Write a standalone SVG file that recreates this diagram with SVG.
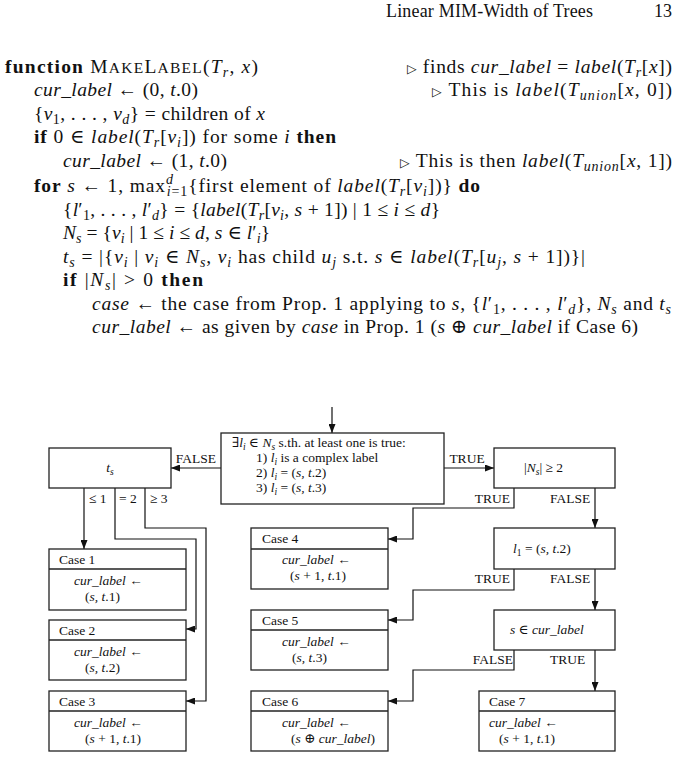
<svg xmlns="http://www.w3.org/2000/svg" width="684" height="758" viewBox="0 0 684 758">
<style>
.tx{font-family:"Liberation Serif","DejaVu Serif",serif;fill:#111}
.hd{font-size:18px}
.bd{font-size:19.5px}
.dg{font-size:13.5px}
.it{font-style:italic}
.bf{font-weight:bold}
.scl{font-size:15.5px}
.sub{font-size:14px;baseline-shift:-4px}
.sup{font-size:14px;baseline-shift:8px}
.dsub{font-size:9.5px;baseline-shift:-3px}
.tri{font-family:"DejaVu Sans",sans-serif;font-size:12.5px}
.box{fill:#fff;stroke:#222;stroke-width:1.3}
.div{stroke:#222;stroke-width:1.3}
.con{fill:none;stroke:#111;stroke-width:1.2}
.arr{marker-end:url(#ah)}
</style>
<defs>
<marker id="ah" viewBox="0 0 9 7" refX="9" refY="3.5" markerWidth="9" markerHeight="7" markerUnits="userSpaceOnUse" orient="auto"><path d="M0,0 L9,3.5 L0,7 z" fill="#111"/></marker>
</defs>

<g id="header">
<text class="tx hd" x="386" y="17" textLength="207" lengthAdjust="spacing">Linear MIM-Width of Trees</text>
<text class="tx hd" x="672" y="17" text-anchor="end">13</text>
</g>

<g id="algorithm">
<text class="tx bd" x="5" y="72.5" textLength="253" lengthAdjust="spacing"><tspan class="bf">function</tspan> M<tspan class="scl">AKE</tspan>L<tspan class="scl">ABEL</tspan>(<tspan class="it">T</tspan><tspan class="sub it">r</tspan>, <tspan class="it">x</tspan>)</text>
<text class="tx bd" x="407" y="72.5" textLength="265" lengthAdjust="spacing"><tspan class="tri">▷</tspan> finds <tspan class="it">cur_label</tspan> = <tspan class="it">label</tspan>(<tspan class="it">T</tspan><tspan class="sub it">r</tspan>[<tspan class="it">x</tspan>])</text>

<text class="tx bd" x="34" y="96" textLength="164" lengthAdjust="spacing"><tspan class="it">cur_label</tspan> ← (0, <tspan class="it">t</tspan>.0)</text>
<text class="tx bd" x="432" y="96" textLength="240" lengthAdjust="spacing"><tspan class="tri">▷</tspan> This is <tspan class="it">label</tspan>(<tspan class="it">T</tspan><tspan class="sub it">union</tspan>[<tspan class="it">x</tspan>, 0])</text>

<text class="tx bd" x="34" y="119.5" textLength="231" lengthAdjust="spacing">{<tspan class="it">v</tspan><tspan class="sub">1</tspan>, . . . , <tspan class="it">v</tspan><tspan class="sub it">d</tspan>} = children of <tspan class="it">x</tspan></text>

<text class="tx bd" x="34" y="143" textLength="302" lengthAdjust="spacing"><tspan class="bf">if</tspan> 0 ∈ <tspan class="it">label</tspan>(<tspan class="it">T</tspan><tspan class="sub it">r</tspan>[<tspan class="it">v</tspan><tspan class="sub it">i</tspan>]) for some <tspan class="it">i</tspan> <tspan class="bf">then</tspan></text>

<text class="tx bd" x="63" y="166.5" textLength="164" lengthAdjust="spacing"><tspan class="it">cur_label</tspan> ← (1, <tspan class="it">t</tspan>.0)</text>
<text class="tx bd" x="400" y="166.5" textLength="272" lengthAdjust="spacing"><tspan class="tri">▷</tspan> This is then <tspan class="it">label</tspan>(<tspan class="it">T</tspan><tspan class="sub it">union</tspan>[<tspan class="it">x</tspan>, 1])</text>

<text class="tx bd" x="34" y="191.5" textLength="446" lengthAdjust="spacing"><tspan class="bf">for</tspan> <tspan class="it">s</tspan> ← 1, max<tspan class="sup it">d</tspan><tspan class="sub" dx="-7"><tspan class="it">i</tspan>=1</tspan>{first element of <tspan class="it">label</tspan>(<tspan class="it">T</tspan><tspan class="sub it">r</tspan>[<tspan class="it">v</tspan><tspan class="sub it">i</tspan>])} <tspan class="bf">do</tspan></text>

<text class="tx bd" x="63" y="215.5" textLength="377" lengthAdjust="spacing">{<tspan class="it">l</tspan>′<tspan class="sub">1</tspan>, . . . , <tspan class="it">l</tspan>′<tspan class="sub it">d</tspan>} = {<tspan class="it">label</tspan>(<tspan class="it">T</tspan><tspan class="sub it">r</tspan>[<tspan class="it">v</tspan><tspan class="sub it">i</tspan>, <tspan class="it">s</tspan> + 1]) | 1 ≤ <tspan class="it">i</tspan> ≤ <tspan class="it">d</tspan>}</text>

<text class="tx bd" x="63" y="239" textLength="207" lengthAdjust="spacing"><tspan class="it">N</tspan><tspan class="sub it">s</tspan> = {<tspan class="it">v</tspan><tspan class="sub it">i</tspan> | 1 ≤ <tspan class="it">i</tspan> ≤ <tspan class="it">d</tspan>,  <tspan class="it">s</tspan> ∈ <tspan class="it">l</tspan>′<tspan class="sub it">i</tspan>}</text>

<text class="tx bd" x="63" y="262.5" textLength="522" lengthAdjust="spacing"><tspan class="it">t</tspan><tspan class="sub it">s</tspan> = |{<tspan class="it">v</tspan><tspan class="sub it">i</tspan> | <tspan class="it">v</tspan><tspan class="sub it">i</tspan> ∈ <tspan class="it">N</tspan><tspan class="sub it">s</tspan>,  <tspan class="it">v</tspan><tspan class="sub it">i</tspan> has child <tspan class="it">u</tspan><tspan class="sub it">j</tspan> s.t. <tspan class="it">s</tspan> ∈ <tspan class="it">label</tspan>(<tspan class="it">T</tspan><tspan class="sub it">r</tspan>[<tspan class="it">u</tspan><tspan class="sub it">j</tspan>, <tspan class="it">s</tspan> + 1])}|</text>

<text class="tx bd" x="63" y="286" textLength="140" lengthAdjust="spacing"><tspan class="bf">if</tspan> |<tspan class="it">N</tspan><tspan class="sub it">s</tspan>| &gt; 0 <tspan class="bf">then</tspan></text>

<text class="tx bd" x="92" y="309.5" textLength="579" lengthAdjust="spacing"><tspan class="it">case</tspan> ← the case from Prop. 1 applying to <tspan class="it">s</tspan>, {<tspan class="it">l</tspan>′<tspan class="sub">1</tspan>, . . . , <tspan class="it">l</tspan>′<tspan class="sub it">d</tspan>}, <tspan class="it">N</tspan><tspan class="sub it">s</tspan> and <tspan class="it">t</tspan><tspan class="sub it">s</tspan></text>

<text class="tx bd" x="92" y="333" textLength="546" lengthAdjust="spacing"><tspan class="it">cur_label</tspan> ← as given by <tspan class="it">case</tspan> in Prop. 1 (<tspan class="it">s</tspan> ⊕ <tspan class="it">cur_label</tspan> if Case 6)</text>
</g>

<g id="connectors">
<path class="con arr" d="M332,407 V433"/>
<path class="con arr" d="M221,468 H171"/>
<path class="con arr" d="M444,468 H494"/>
<path class="con arr" d="M84,488 V549"/>
<path class="con arr" d="M115,488 V539 H196 V629 H186"/>
<path class="con arr" d="M145,488 V528 H206 V701 H186"/>
<path class="con arr" d="M514,488 V508 H413 V539 H388"/>
<path class="con arr" d="M595,488 V528"/>
<path class="con arr" d="M514,569 V590 H413 V620 H388"/>
<path class="con arr" d="M595,569 V610"/>
<path class="con arr" d="M514,650 V670 H413 V701 H388"/>
<path class="con arr" d="M595,650 V691"/>
<text class="tx dg" x="196" y="463" text-anchor="middle">FALSE</text>
<text class="tx dg" x="467" y="463" text-anchor="middle">TRUE</text>
<text class="tx dg" x="89" y="503">≤ 1</text>
<text class="tx dg" x="119" y="503">= 2</text>
<text class="tx dg" x="150" y="503">≥ 3</text>
<text class="tx dg" x="510" y="503" text-anchor="end">TRUE</text>
<text class="tx dg" x="550" y="503">FALSE</text>
<text class="tx dg" x="510" y="583" text-anchor="end">TRUE</text>
<text class="tx dg" x="550" y="583">FALSE</text>
<text class="tx dg" x="513" y="664" text-anchor="end">FALSE</text>
<text class="tx dg" x="550" y="664">TRUE</text>
</g>

<g id="condition">
<rect class="box" x="221" y="433" width="223" height="71"/>
<text class="tx dg" x="232" y="447">∃<tspan class="it">l</tspan><tspan class="dsub it">i</tspan> ∈ <tspan class="it">N</tspan><tspan class="dsub it">s</tspan> s.th.  at least one is true:</text>
<text class="tx dg" x="256" y="462">1) <tspan class="it">l</tspan><tspan class="dsub it">i</tspan> is a complex label</text>
<text class="tx dg" x="256" y="477">2) <tspan class="it">l</tspan><tspan class="dsub it">i</tspan> = (<tspan class="it">s, t</tspan>.2)</text>
<text class="tx dg" x="256" y="492">3) <tspan class="it">l</tspan><tspan class="dsub it">i</tspan> = (<tspan class="it">s, t</tspan>.3)</text>
</g>

<g id="ts">
<rect class="box" x="49" y="448" width="122" height="40"/>
<text class="tx dg" x="110" y="472" text-anchor="middle"><tspan class="it">t</tspan><tspan class="dsub it">s</tspan></text>
</g>

<g id="ns">
<rect class="box" x="494" y="448" width="121" height="40"/>
<text class="tx dg" x="524" y="472">|<tspan class="it">N</tspan><tspan class="dsub it">s</tspan>| ≥ 2</text>
</g>

<g id="l1">
<rect class="box" x="494" y="528" width="121" height="41"/>
<text class="tx dg" x="513" y="553"><tspan class="it">l</tspan><tspan class="dsub">1</tspan> = (<tspan class="it">s, t</tspan>.2)</text>
</g>

<g id="sin">
<rect class="box" x="494" y="610" width="121" height="40"/>
<text class="tx dg" x="510" y="634"><tspan class="it">s</tspan> ∈ <tspan class="it">cur_label</tspan></text>
</g>

<g id="case1">
<rect class="box" x="49" y="549" width="137" height="61"/>
<line class="div" x1="49" y1="569" x2="186" y2="569"/>
<text class="tx dg" x="59" y="563.5">Case 1</text>
<text class="tx dg" x="74" y="585"><tspan class="it">cur_label</tspan> ←</text>
<text class="tx dg" x="85" y="601">(<tspan class="it">s, t</tspan>.1)</text>
</g>

<g id="case2">
<rect class="box" x="49" y="620" width="137" height="60"/>
<line class="div" x1="49" y1="640" x2="186" y2="640"/>
<text class="tx dg" x="59" y="634.5">Case 2</text>
<text class="tx dg" x="74" y="656"><tspan class="it">cur_label</tspan> ←</text>
<text class="tx dg" x="85" y="672">(<tspan class="it">s, t</tspan>.2)</text>
</g>

<g id="case3">
<rect class="box" x="49" y="691" width="137" height="60"/>
<line class="div" x1="49" y1="711" x2="186" y2="711"/>
<text class="tx dg" x="59" y="705.5">Case 3</text>
<text class="tx dg" x="74" y="727"><tspan class="it">cur_label</tspan> ←</text>
<text class="tx dg" x="85" y="743">(<tspan class="it">s</tspan> + 1, <tspan class="it">t</tspan>.1)</text>
</g>

<g id="case4">
<rect class="box" x="251" y="528" width="137" height="61"/>
<line class="div" x1="251" y1="549" x2="388" y2="549"/>
<text class="tx dg" x="262" y="543">Case 4</text>
<text class="tx dg" x="282" y="564"><tspan class="it">cur_label</tspan> ←</text>
<text class="tx dg" x="290" y="580">(<tspan class="it">s</tspan> + 1, <tspan class="it">t</tspan>.1)</text>
</g>

<g id="case5">
<rect class="box" x="251" y="610" width="137" height="60"/>
<line class="div" x1="251" y1="630" x2="388" y2="630"/>
<text class="tx dg" x="262" y="624.5">Case 5</text>
<text class="tx dg" x="282" y="646"><tspan class="it">cur_label</tspan> ←</text>
<text class="tx dg" x="292" y="662">(<tspan class="it">s, t</tspan>.3)</text>
</g>

<g id="case6">
<rect class="box" x="251" y="691" width="137" height="60"/>
<line class="div" x1="251" y1="711" x2="388" y2="711"/>
<text class="tx dg" x="262" y="705.5">Case 6</text>
<text class="tx dg" x="282" y="727"><tspan class="it">cur_label</tspan> ←</text>
<text class="tx dg" x="291" y="743">(<tspan class="it">s</tspan> ⊕ <tspan class="it">cur_label</tspan>)</text>
</g>

<g id="case7">
<rect class="box" x="479" y="691" width="136" height="60"/>
<line class="div" x1="479" y1="711" x2="615" y2="711"/>
<text class="tx dg" x="489" y="705.5">Case 7</text>
<text class="tx dg" x="489" y="727"><tspan class="it">cur_label</tspan> ←</text>
<text class="tx dg" x="499" y="743">(<tspan class="it">s</tspan> + 1, <tspan class="it">t</tspan>.1)</text>
</g>
</svg>
